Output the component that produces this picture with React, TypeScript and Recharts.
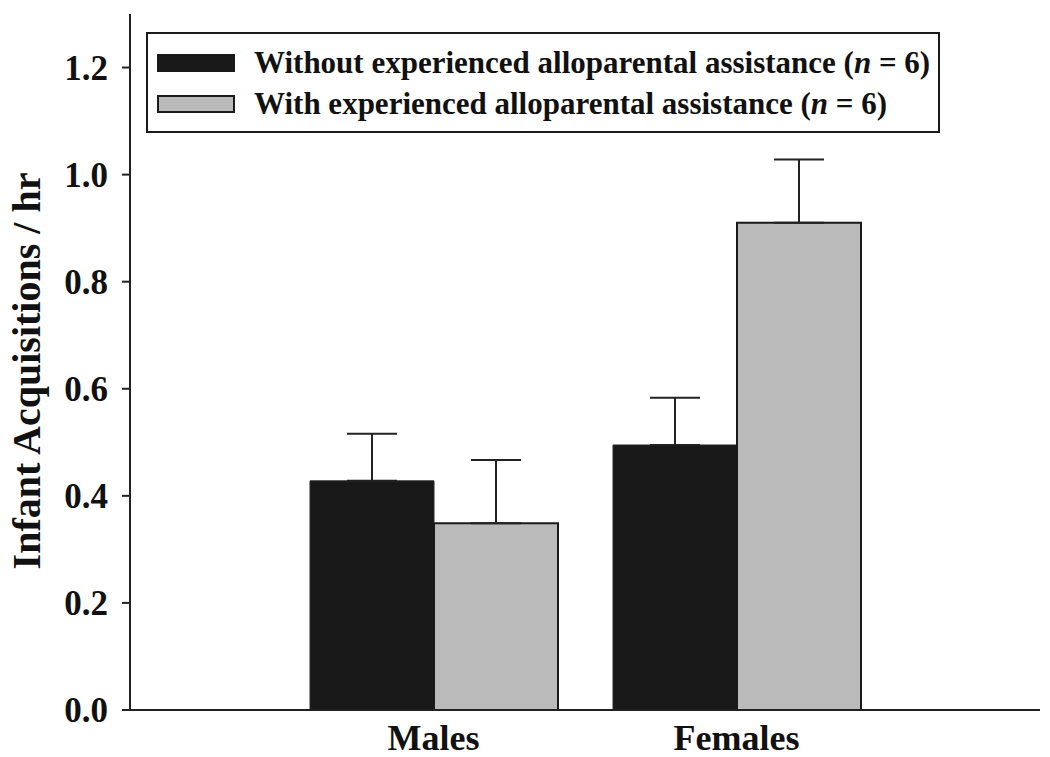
import { BarChart, Bar, XAxis, YAxis, ErrorBar, Legend } from 'recharts';

const SERIF = '"Liberation Serif", Tinos, "Times New Roman", "DejaVu Serif", serif';

const categories = ['Males', 'Females'];
const withoutMeans = [0.428, 0.495];
const withoutSem = [0.088, 0.088];
const withMeans = [0.349, 0.910];
const withSem = [0.118, 0.118];
const yTicks = [0, 0.2, 0.4, 0.6, 0.8, 1.0, 1.2];

const data = categories.map((name, i) => ({
  name,
  without: withoutMeans[i],
  withoutErr: [0, withoutSem[i]],
  with: withMeans[i],
  withErr: [0, withSem[i]],
}));

const seriesOrder = ['without', 'with'];
const seriesNames: Record<string, string> = {
  without: 'Without experienced alloparental assistance',
  with: 'With experienced alloparental assistance',
};

function LegendBox({ payload }: any) {
  const items = [...(payload || [])].sort(
    (a: any, b: any) => seriesOrder.indexOf(a.dataKey) - seriesOrder.indexOf(b.dataKey)
  );
  return (
    <div
      style={{
        position: 'absolute',
        left: 146,
        top: 32,
        width: 790,
        height: 97,
        border: '2px solid #1a1a1a',
        background: '#fff',
        fontFamily: SERIF,
        fontWeight: 'bold',
        fontSize: 31,
        color: '#111',
        boxSizing: 'content-box',
      }}
    >
      {items.map((p: any, i: number) => (
        <div key={p.dataKey} style={{ position: 'absolute', left: 9, top: i === 0 ? 11 : 52, display: 'flex', alignItems: 'center', height: 36 }}>
          <span
            style={{
              display: 'inline-block',
              width: i === 0 ? 78 : 74,
              height: i === 0 ? 18 : 14,
              background: p.color,
              border: i === 0 ? 'none' : '2px solid #1a1a1a',
              marginRight: 19,
            }}
          />
          <span style={{ whiteSpace: 'nowrap' }}>
            {seriesNames[p.dataKey]} (<i>n</i> = 6)
          </span>
        </div>
      ))}
    </div>
  );
}

function YLabel({ viewBox }: any) {
  const cx = 26;
  const cy = viewBox.y + viewBox.height / 2 + 9;
  return (
    <text
      x={cx}
      y={cy}
      transform={`rotate(-90, ${cx}, ${cy})`}
      textAnchor="middle"
      dominantBaseline="central"
      fontFamily={SERIF}
      fontWeight="bold"
      fontSize={40}
      fill="#111"
    >
      Infant Acquisitions / hr
    </text>
  );
}

export default function App() {
  return (
    <div style={{ position: 'absolute', left: 0, top: 0, width: 1050, height: 757, background: '#fff' }}>
      <BarChart
        width={1050}
        height={757}
        data={data}
        margin={{ top: 14, right: 10, bottom: 0, left: 0 }}
        barGap={0}
        barCategoryGap={28}
      >
        <XAxis
          dataKey="name"
          height={47}
          padding={{ left: 152, right: 152 }}
          axisLine={{ stroke: '#222', strokeWidth: 2 }}
          tickLine={false}
          tickSize={0}
          tickMargin={14}
          tick={{ fontFamily: SERIF, fontWeight: 'bold', fontSize: 36, fill: '#111' }}
        />
        <XAxis xAxisId="top" dataKey="name" orientation="top" height={0} axisLine={{ stroke: '#222', strokeWidth: 2 }} tick={false} tickLine={false} />
        <YAxis
          width={130}
          domain={[0, 1.3]}
          ticks={yTicks}
          interval={0}
          allowDataOverflow
          tickFormatter={(v: number) => v.toFixed(1)}
          axisLine={{ stroke: '#222', strokeWidth: 2 }}
          tickLine={{ stroke: '#222', strokeWidth: 2 }}
          tickSize={8}
          tickMargin={14}
          tick={{ fontFamily: SERIF, fontWeight: 'bold', fontSize: 35, fill: '#111' }}
          label={{ content: <YLabel /> }}
        />
        <YAxis yAxisId="right" orientation="right" width={0} domain={[0, 1.3]} axisLine={{ stroke: '#222', strokeWidth: 2 }} tick={false} tickLine={false} />
        <Legend content={<LegendBox />} wrapperStyle={{ position: 'absolute', left: 0, top: 0, width: 0, height: 0 }} />
        <Bar dataKey="without" fill="#181818" stroke="#2a2a2a" strokeWidth={1} isAnimationActive={false}>
          <ErrorBar dataKey="withoutErr" direction="y" width={25} stroke="#222" strokeWidth={2} isAnimationActive={false} />
        </Bar>
        <Bar dataKey="with" fill="#bababa" stroke="#1a1a1a" strokeWidth={2} isAnimationActive={false}>
          <ErrorBar dataKey="withErr" direction="y" width={25} stroke="#222" strokeWidth={2} isAnimationActive={false} />
        </Bar>
      </BarChart>
    </div>
  );
}
